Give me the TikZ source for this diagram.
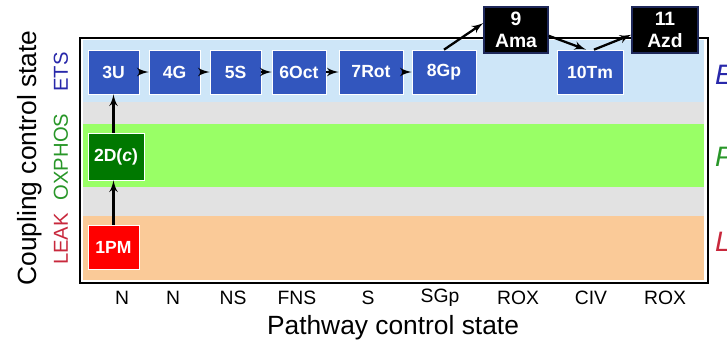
\documentclass[tikz,border=0pt]{standalone}
\usepackage{fontspec}
\setmainfont{Liberation Sans}
\usetikzlibrary{arrows,positioning,calc}
\definecolor{etsband}{RGB}{206,230,248}
\definecolor{oxband}{RGB}{153,255,102}
\definecolor{leakband}{RGB}{250,202,152}
\definecolor{gapband}{RGB}{226,226,226}
\definecolor{boxblue}{RGB}{50,86,190}
\definecolor{boxgreen}{RGB}{0,120,0}
\definecolor{navyedge}{RGB}{30,40,90}
\definecolor{etstext}{RGB}{40,40,170}
\definecolor{oxtext}{RGB}{40,150,40}
\definecolor{leaktext}{RGB}{200,40,60}
\begin{document}
\begin{tikzpicture}[x=0.02cm, y=-0.02cm,
            box/.style={draw=white, thin, fill=boxblue, text=white, font=\bfseries, inner sep=1pt,
                        minimum width=1.02cm, minimum height=0.88cm},
            topbox/.style={draw=navyedge, thick, fill=black, text=white, align=center, inner sep=1pt,
                        font=\fontsize{11}{12.5}\selectfont\bfseries, minimum height=0.92cm},
            tick/.style={font=\fontsize{11}{13}\selectfont},
            side/.style={rotate=90, font=\fontsize{11.5}{13}\selectfont},
            link/.style={line width=1.3pt, -latex'}]
        \clip (0,0) rectangle (727,346);

        % bands
        \fill[etsband] (83,40) rectangle (704,102);
        \fill[gapband] (83,102) rectangle (704,124);
        \fill[oxband] (83,124) rectangle (704,187);
        \fill[gapband] (83,187) rectangle (704,216);
        \fill[leakband] (83,216) rectangle (704,280);
        \draw[line width=1.3pt] (80,38) rectangle (708,283);

        % states
        \node[box, fill=red] (nodePM) at (113.5,247) {1PM};
        \node[box, fill=boxgreen, minimum width=1.12cm, minimum height=0.94cm] (nodeD) at (116,156.5) {2D(\textit{c})};
        \node[box] (nodeU) at (113.5,72) {3U};
        \node[box] (nodeG) at (174.5,72) {4G};
        \node[box] (nodeS) at (235.5,72) {5S};
        \node[box, minimum width=1.08cm] (nodeOct) at (299,72) {6Oct};
        \node[box, minimum width=1.28cm] (nodeRot) at (371,72) {7Rot};
        \node[box, minimum width=1.28cm] (nodeGp) at (444,72) {8Gp};
        \node[box, minimum width=1.32cm] (nodeTm) at (590,72) {10Tm};
        \node[topbox, minimum width=1.28cm] (nodeAma) at (516,30) {9\\Ama};
        \node[topbox, minimum width=1.32cm] (nodeAzd) at (665,30) {11\\Azd};

        \draw[link] (nodePM.north) -- (nodePM.north |- nodeD.south);
        \draw[link] (nodeU.south |- nodeD.north) -- (nodeU.south);
        \draw[link] (nodeU) -- (nodeG);
        \draw[link] (nodeG) -- (nodeS);
        \draw[link] (nodeS) -- (nodeOct);
        \draw[link] (nodeOct) -- (nodeRot);
        \draw[link] (nodeRot) -- (nodeGp);
        \draw[link] (nodeGp.north) -- (nodeAma.168);
        \draw[link] (nodeAma.-10) -- (nodeTm.100);
        \draw[link] (nodeTm.80) -- (nodeAzd.188);

        % axes
        \node[rotate=90, font=\fontsize{15}{17}\selectfont] (ylab) at (30,158) {Coupling control state};
        \node[side, text=etstext] (ets) at (61,72) {ETS};
        \node[side, text=oxtext] (oxphos) at (61,157) {OXPHOS};
        \node[side, text=leaktext] (leak) at (61,239) {LEAK};
        \node[anchor=west, text=etstext, font=\fontsize{16}{18}\selectfont\itshape] (etsE) at (709,75) {E};
        \node[anchor=west, text=oxtext, font=\fontsize{16}{18}\selectfont\itshape] (oxP) at (709,157) {P};
        \node[anchor=west, text=leaktext, font=\fontsize{16}{18}\selectfont\itshape] (leakL) at (709,242) {L};
        \foreach \px/\lab in {122/N, 173/N, 233/NS, 297/FNS, 368/S, 440/SGp, 518/ROX, 591/CIV, 665/ROX}
            \node[tick] at (\px,298) {\lab};
        \node[font=\fontsize{15}{17}\selectfont] (xlab) at (393,328) {Pathway control state};
\end{tikzpicture}
\end{document}
